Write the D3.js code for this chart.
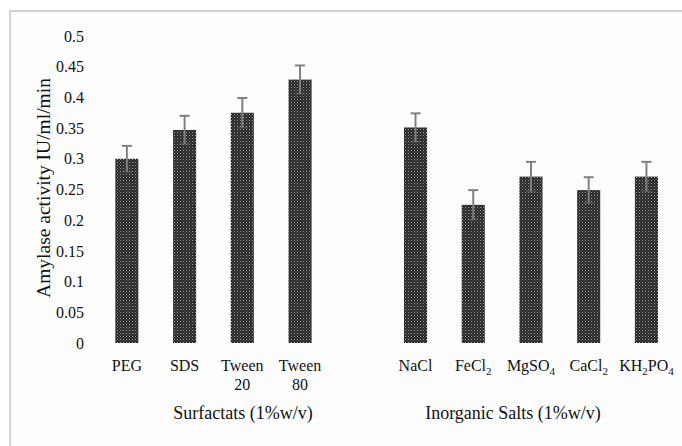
<!DOCTYPE html>
<html>
<head>
<meta charset="utf-8">
<script src="https://cdn.jsdelivr.net/npm/d3@7"></script>
<style>
  html, body { margin: 0; padding: 0; background: #ffffff; }
  svg { display: block; }
  text { font-family: "Liberation Serif", "Times New Roman", serif; fill: #111; }
</style>
</head>
<body>
<svg id="chart" width="682" height="446"></svg>
<script>
// ---- data ----
const categories = ["PEG", "SDS", "Tween 20", "Tween 80", "", "NaCl", "FeCl2", "MgSO4", "CaCl2", "KH2PO4"];
const values     = [0.300, 0.347, 0.375, 0.429, null, 0.351, 0.225, 0.271, 0.249, 0.271];
const errors     = [0.021, 0.023, 0.024, 0.023, null, 0.023, 0.024, 0.024, 0.021, 0.024];
const yTicks     = [0, 0.05, 0.1, 0.15, 0.2, 0.25, 0.3, 0.35, 0.4, 0.45, 0.5];
const yTickLabels = ["0", "0.05", "0.1", "0.15", "0.2", "0.25", "0.3", "0.35", "0.4", "0.45", "0.5"];
// label parts: [text, isSubscript]
const labelParts = {
  "PEG": [[["PEG", false]]],
  "SDS": [[["SDS", false]]],
  "Tween 20": [[["Tween", false]], [["20", false]]],
  "Tween 80": [[["Tween", false]], [["80", false]]],
  "": [],
  "NaCl": [[["NaCl", false]]],
  "FeCl2": [[["FeCl", false], ["2", true]]],
  "MgSO4": [[["MgSO", false], ["4", true]]],
  "CaCl2": [[["CaCl", false], ["2", true]]],
  "KH2PO4": [[["KH", false], ["2", true], ["PO", false], ["4", true]]]
};
const yTitle = "Amylase activity IU/ml/min";
const groupTitles = [
  {text: "Surfactats (1%w/v)", x: 243},
  {text: "Inorganic Salts (1%w/v)", x: 513}
];

// ---- drawing ----
const svg = d3.select("#chart");

// frame
svg.append("rect")
  .attr("x", 10).attr("y", 11)
  .attr("width", 720).attr("height", 460)
  .attr("fill", "#fdfdfd")
  .attr("stroke", "#d3d3d3")
  .attr("stroke-width", 2);

// pattern for bars
const defs = svg.append("defs");
const pat = defs.append("pattern")
  .attr("id", "dots")
  .attr("patternUnits", "userSpaceOnUse")
  .attr("width", 3).attr("height", 3);
pat.append("rect").attr("width", 3).attr("height", 3).attr("fill", "#222");
pat.append("rect").attr("x", 0).attr("y", 0).attr("width", 1).attr("height", 1).attr("fill", "#a8a8a8");
pat.append("rect").attr("x", 1.5).attr("y", 1.5).attr("width", 1).attr("height", 1).attr("fill", "#8a8a8a");

const x = d3.scaleBand()
  .domain(categories.map((c, i) => i))
  .range([98, 675.3])
  .paddingInner(0.6)
  .paddingOuter(0.3);

const y = d3.scaleLinear().domain([0, 0.5]).range([343, 36]);

// y axis (labels only)
const yAxis = d3.axisLeft(y)
  .tickValues(yTicks)
  .tickFormat((d, i) => yTickLabels[i])
  .tickSize(0)
  .tickPadding(0);
const gy = svg.append("g").attr("transform", "translate(84,0)").call(yAxis);
gy.select(".domain").remove();
gy.selectAll("text")
  .style("font-family", '"Liberation Serif", "Times New Roman", serif')
  .style("font-size", "16px")
  .attr("fill", "#111");

// bars
const data = categories.map((c, i) => ({c, i, v: values[i], e: errors[i]})).filter(d => d.v !== null);
svg.append("g").selectAll("rect")
  .data(data).join("rect")
  .attr("x", d => x(d.i))
  .attr("width", x.bandwidth())
  .attr("y", d => y(d.v))
  .attr("height", d => y(0) - y(d.v))
  .attr("fill", "url(#dots)");

// error bars
const eg = svg.append("g").attr("stroke", "#808080").attr("stroke-width", 2);
data.forEach(d => {
  const cx = x(d.i) + x.bandwidth() / 2;
  eg.append("line").attr("x1", cx).attr("x2", cx).attr("y1", y(d.v + d.e)).attr("y2", y(d.v - d.e));
  eg.append("line").attr("x1", cx - 5).attr("x2", cx + 5).attr("y1", y(d.v + d.e)).attr("y2", y(d.v + d.e));
  eg.append("line").attr("x1", cx - 5).attr("x2", cx + 5).attr("y1", y(d.v - d.e)).attr("y2", y(d.v - d.e))
    .attr("stroke-opacity", 0.35);
});

// category labels
const lg = svg.append("g").attr("text-anchor", "middle").style("font-size", "16px");
categories.forEach((c, i) => {
  const lines = labelParts[c];
  const cx = x(i) + x.bandwidth() / 2;
  lines.forEach((parts, li) => {
    const t = lg.append("text").attr("x", cx).attr("y", 371 + li * 19);
    let shifted = false;
    parts.forEach(([s, sub]) => {
      const ts = t.append("tspan").text(s);
      if (sub && !shifted) { ts.attr("dy", 4).style("font-size", "11px"); shifted = true; }
      else if (sub) { ts.style("font-size", "11px"); }
      else if (shifted) { ts.attr("dy", -4); shifted = false; }
    });
  });
});

// group titles
groupTitles.forEach(g => {
  svg.append("text")
    .attr("x", g.x).attr("y", 419)
    .attr("text-anchor", "middle")
    .style("font-size", "18px")
    .text(g.text);
});

// y title
svg.append("text")
  .attr("transform", "translate(50,188) rotate(-90)")
  .attr("text-anchor", "middle")
  .style("font-size", "19.5px")
  .text(yTitle);
</script>
</body>
</html>
